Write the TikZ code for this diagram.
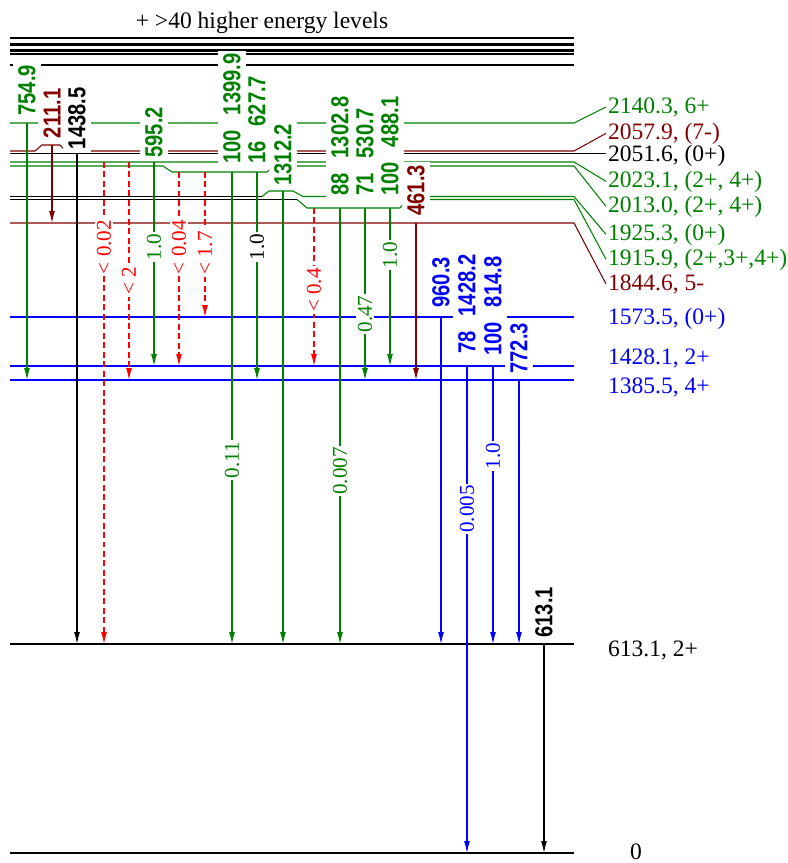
\documentclass[tikz,border=0pt]{standalone}
\usepackage{fontspec}
\setmainfont{Liberation Serif}
\setsansfont{Liberation Sans}
\newfontfamily\gammafont[FakeStretch=0.82]{Liberation Sans}
\usetikzlibrary{arrows.meta}

\definecolor{lvgreen}{RGB}{0,128,0}
\definecolor{lvred}{RGB}{128,0,0}
\definecolor{lvblue}{RGB}{0,0,255}

\begin{document}
\begin{tikzpicture}[
    x=0.02cm, y=-0.02cm,
    level/.style={line width=0.6pt},
    gamma/.style={line width=0.6pt, -{Latex[length=2.4mm, width=1.2mm]}},
    limitgamma/.style={gamma, red, dash pattern=on 3.4pt off 2pt},
    energy/.style={rotate=90, anchor=west, fill=white, inner xsep=1.5pt, inner ysep=2.9pt, font=\gammafont\bfseries\fontsize{14}{16}\selectfont},
    branch/.style={rotate=90, fill=white, inner sep=1pt, font=\fontsize{12}{14}\selectfont},
    levellabel/.style={anchor=base west, inner sep=1pt, font=\fontsize{13.4}{16}\selectfont}
]
    \useasboundingbox (0,0) rectangle (788,863);

    % level labels on the right
    \node[levellabel, anchor=base] (more) at (262,28) {+ >40 higher energy levels};
    \node[levellabel, text=lvgreen] (n2140) at (606,113) {2140.3, 6+};
    \node[levellabel, text=lvred] (n2057) at (606,139) {2057.9, (7-)};
    \node[levellabel] (n2051) at (606,161) {2051.6, (0+)};
    \node[levellabel, text=lvgreen] (n2023) at (606,187) {2023.1, (2+, 4+)};
    \node[levellabel, text=lvgreen] (n2013) at (606,212) {2013.0, (2+, 4+)};
    \node[levellabel, text=lvgreen] (n1925) at (606,240) {1925.3, (0+)};
    \node[levellabel, text=lvgreen] (n1915) at (606,265) {1915.9, (2+,3+,4+)};
    \node[levellabel, text=lvred] (n1844) at (606,290) {1844.6, 5-};
    \node[levellabel, text=lvblue] (n1573) at (606,324) {1573.5, (0+)};
    \node[levellabel, text=lvblue] (n1428) at (606,364) {1428.1, 2+};
    \node[levellabel, text=lvblue] (n1385) at (606,393) {1385.5, 4+};
    \node[levellabel] (n613) at (606,656) {613.1, 2+};
    \node[levellabel] (n0) at (628,859) {0};

    % higher levels
    \draw[level] (10,37.3) -- (574,37.3);
    \draw[level] (10,38.8) -- (574,38.8);
    \draw[level] (10,44) -- (574,44);
    \draw[level] (10,45.4) -- (574,45.4);
    \draw[level] (10,49.4) -- (574,49.4);
    \draw[level] (10,51) -- (574,51);
    \draw[level] (10,53.3) -- (574,53.3);
    \draw[level] (10,54.8) -- (574,54.8);
    \draw[level] (10,65) -- (574,65);

    % levels
    \draw[level, lvgreen] (10,123) -- (574,123) -- (n2140.west);
    \draw[level, lvred] (10,151) -- (35,151) -- (42,145) -- (60,145) -- (66,151) -- (574,151) -- (n2057.west);
    \draw[level] (10,153.5) -- (n2051.west |- 0,153.5);
    \draw[level, lvgreen] (10,162) -- (574,162) -- (n2023.west);
    \draw[level, lvgreen] (10,166) -- (163,166) -- (172,172) -- (267,172) -- (273,166) -- (574,166) -- (n2013.west);
    \draw[level] (10,196.5) -- (262,196.5);
    \draw[level, lvgreen] (262,196.5) -- (269,191) -- (293,191) -- (303,196.5) -- (574,196.5) -- (n1925.west);
    \draw[level] (10,199.5) -- (297,199.5);
    \draw[level, lvgreen] (297,199.5) -- (307,208) -- (400,208) -- (406,199.5) -- (574,199.5) -- (n1915.west);
    \draw[level, lvred] (10,223) -- (574,223) -- (n1844.west);
    \draw[level, lvblue] (10,317) -- (574,317);
    \draw[level, lvblue] (10,366) -- (574,366);
    \draw[level, lvblue] (10,380) -- (574,380);
    \draw[level] (10,644) -- (574,644);
    \draw[level] (10,853) -- (574,853);

    % transitions
    \coordinate (g754a) at (27,123);   \coordinate (g754b) at (27,380);
    \coordinate (g211a) at (52,145);   \coordinate (g211b) at (52,223);
    \coordinate (g1438a) at (77,153.5); \coordinate (g1438b) at (77,644);
    \coordinate (g1410a) at (104,162); \coordinate (g1410b) at (104,644);
    \coordinate (g638a) at (129,162);  \coordinate (g638b) at (129,380);
    \coordinate (g595a) at (154,162);  \coordinate (g595b) at (154,366);
    \coordinate (g585a) at (179,172);  \coordinate (g585b) at (179,366);
    \coordinate (g440a) at (205,172);  \coordinate (g440b) at (205,317);
    \coordinate (g1400a) at (232,172); \coordinate (g1400b) at (232,644);
    \coordinate (g628a) at (257,172);  \coordinate (g628b) at (257,380);
    \coordinate (g1312a) at (283,191); \coordinate (g1312b) at (283,644);
    \coordinate (g497a) at (314,208);  \coordinate (g497b) at (314,366);
    \coordinate (g1303a) at (340,208); \coordinate (g1303b) at (340,644);
    \coordinate (g531a) at (365,208);  \coordinate (g531b) at (365,380);
    \coordinate (g488a) at (390,208);  \coordinate (g488b) at (390,366);
    \coordinate (g461a) at (416,223);  \coordinate (g461b) at (416,380);
    \coordinate (g960a) at (441,317);  \coordinate (g960b) at (441,644);
    \coordinate (g1428a) at (467,366); \coordinate (g1428b) at (467,853);
    \coordinate (g815a) at (493,366);  \coordinate (g815b) at (493,644);
    \coordinate (g772a) at (519,380);  \coordinate (g772b) at (519,644);
    \coordinate (g613a) at (544,644);  \coordinate (g613b) at (544,853);

    \draw[gamma, lvgreen] (g754a) -- (g754b);
    \draw[gamma, lvred] (g211a) -- (g211b);
    \draw[gamma] (g1438a) -- (g1438b);
    \draw[limitgamma] (g1410a) -- (g1410b);
    \draw[limitgamma] (g638a) -- (g638b);
    \draw[gamma, lvgreen] (g595a) -- (g595b);
    \draw[limitgamma] (g585a) -- (g585b);
    \draw[limitgamma] (g440a) -- (g440b);
    \draw[gamma, lvgreen] (g1400a) -- (g1400b);
    \draw[gamma, lvgreen] (g628a) -- (g628b);
    \draw[gamma, lvgreen] (g1312a) -- (g1312b);
    \draw[limitgamma] (g497a) -- (g497b);
    \draw[gamma, lvgreen] (g1303a) -- (g1303b);
    \draw[gamma, lvgreen] (g531a) -- (g531b);
    \draw[gamma, lvgreen] (g488a) -- (g488b);
    \draw[gamma, lvred] (g461a) -- (g461b);
    \draw[gamma, lvblue] (g960a) -- (g960b);
    \draw[gamma, lvblue] (g1428a) -- (g1428b);
    \draw[gamma, lvblue] (g815a) -- (g815b);
    \draw[gamma, lvblue] (g772a) -- (g772b);
    \draw[gamma] (g613a) -- (g613b);

    % branching ratios
    \node[branch, text=red] (b1410) at (104,247) {< 0.02};
    \node[branch, text=red] (b638) at (129,281) {< 2};
    \node[branch, text=lvgreen] (b595) at (154,247) {1.0};
    \node[branch, text=red] (b585) at (179,247) {< 0.04};
    \node[branch, text=red] (b440) at (205,253) {< 1.7};
    \node[branch, text=lvgreen] (b1400) at (232,460) {0.11};
    \node[branch] (b628) at (257,247) {1.0};
    \node[branch, text=red] (b497) at (314,290) {< 0.4};
    \node[branch, text=lvgreen] (b1303) at (340,471) {0.007};
    \node[branch, text=lvgreen] (b531) at (365,314) {0.47};
    \node[branch, text=lvgreen] (b488) at (390,255) {1.0};
    \node[branch, text=lvblue] (b1428) at (467,509) {0.005};
    \node[branch, text=lvblue] (b815) at (493,456) {1.0};

    % gamma energies
    \node[energy, text=lvgreen] (e754) at (27,118.5) {754.9};
    \node[energy, text=lvred] (e211) at (52,141) {211.1};
    \node[energy] (e1438) at (77,152) {1438.5};
    \node[energy, text=lvgreen] (e595) at (154,160.5) {595.2};
    \node[energy, text=lvgreen] (e1400) at (232,166.5) {100\hspace{0.6em}1399.9};
    \node[energy, text=lvgreen] (e628) at (257,166.5) {16\hspace{0.6em}627.7};
    \node[energy, text=lvgreen] (e1312) at (283,188.5) {1312.2};
    \node[energy, text=lvgreen] (e1303) at (340,198.5) {88\hspace{0.6em}1302.8};
    \node[energy, text=lvgreen] (e531) at (365,198.5) {71\hspace{0.6em}530.7};
    \node[energy, text=lvgreen] (e488) at (390,198.5) {100\hspace{0.6em}488.1};
    \node[energy, text=lvred] (e461) at (416,218.5) {461.3};
    \node[energy, text=lvblue] (e960) at (441,310.5) {960.3};
    \node[energy, text=lvblue] (e1428) at (467,356.5) {78\hspace{0.6em}1428.2};
    \node[energy, text=lvblue] (e815) at (493,358.5) {100\hspace{0.6em}814.8};
    \node[energy, text=lvblue] (e772) at (519,376.5) {772.3};
    \node[energy] (e613) at (544,640.5) {613.1};
\end{tikzpicture}
\end{document}
